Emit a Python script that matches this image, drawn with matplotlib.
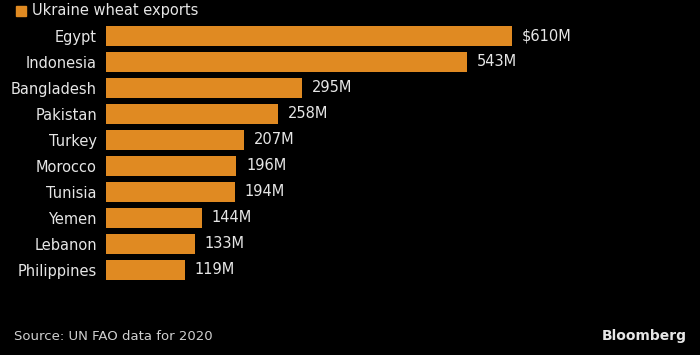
import matplotlib
matplotlib.use("Agg")
import matplotlib.pyplot as plt
from matplotlib.patches import Rectangle

# Ukraine wheat exports by destination, 2020 (million USD)
countries = ["Egypt", "Indonesia", "Bangladesh", "Pakistan", "Turkey",
             "Morocco", "Tunisia", "Yemen", "Lebanon", "Philippines"]
exports = [610, 543, 295, 258, 207, 196, 194, 144, 133, 119]
value_labels = ["$610M", "543M", "295M", "258M", "207M",
                "196M", "194M", "144M", "133M", "119M"]

BG = "black"
BAR = "#E08A22"
TXT = "#E6E6E6"

W, H = 700, 355
fig = plt.figure(figsize=(7, 3.55), dpi=100, facecolor=BG)

# axes placed in pixel terms: bars start at x=106, rows span y=23..283
ax = fig.add_axes([106 / W, 1 - 283 / H, 584 / W, 260 / H], facecolor=BG)
xmax = 610 * 584 / 406
ypos = list(range(len(countries)))
ax.barh(ypos, exports, height=0.77, color=BAR)
ax.set_xlim(0, xmax)
ax.set_ylim(len(countries) - 0.5, -0.5)

for y, v, lab in zip(ypos, exports, value_labels):
    ax.annotate(lab, (v, y), xytext=(7, 0), textcoords="offset points",
                va="center", ha="left", color=TXT, fontsize=10.5)

ax.set_yticks(ypos)
ax.set_yticklabels(countries, color=TXT, fontsize=10.5)
ax.tick_params(axis="y", length=0, pad=6.5)
ax.set_xticks([])
for s in ax.spines.values():
    s.set_visible(False)

# legend
fig.patches.append(Rectangle((16 / W, 1 - 16 / H), 10 / W, 10 / H,
                             transform=fig.transFigure, color=BAR))
fig.text(32 / W, 1 - 11 / H, "Ukraine wheat exports", color=TXT,
         fontsize=10.5, va="center", ha="left")

# footer
fig.text(14 / W, 1 - 336 / H, "Source: UN FAO data for 2020", color="#D0D0D0",
         fontsize=9.5, va="center", ha="left")
fig.text(687 / W, 1 - 336 / H, "Bloomberg", color="#E6E6E6", fontsize=10,
         fontweight="bold", va="center", ha="right")

fig.savefig("out.png", dpi=100, facecolor=BG)
